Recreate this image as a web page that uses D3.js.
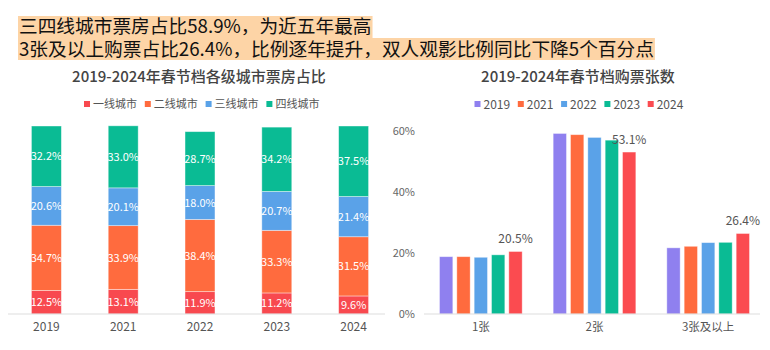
<!DOCTYPE html>
<html>
<head>
<meta charset="utf-8">
<script src="https://cdn.jsdelivr.net/npm/d3@7/dist/d3.min.js"></script>
<style>
  body { margin: 0; background: #fff; }
  svg { font-family: "Noto Sans CJK SC", "Noto Sans", sans-serif; }
</style>
</head>
<body>
<div id="container"></div>
<script>
// headline
const headlines = ["三四线城市票房占比58.9%，为近五年最高", "3张及以上购票占比26.4%，比例逐年提升，双人观影比例同比下降5个百分点"];

// left chart: box office share by city tier
const years = ["2019", "2021", "2022", "2023", "2024"];
const tiers = ["一线城市", "二线城市", "三线城市", "四线城市"];
const tier1 = [12.5, 13.1, 11.9, 11.2, 9.6];
const tier2 = [34.7, 33.9, 38.4, 33.3, 31.5];
const tier3 = [20.6, 20.1, 18.0, 20.7, 21.4];
const tier4 = [32.2, 33.0, 28.7, 34.2, 37.5];
const tierColors = ["#f8494f", "#ff6b3e", "#5aa2e8", "#0abb94"];

// right chart: tickets per purchase
const ticketGroups = ["1张", "2张", "3张及以上"];
const ticketYears = ["2019", "2021", "2022", "2023", "2024"];
const t2019 = [18.8, 59.2, 21.7];
const t2021 = [18.8, 58.8, 22.2];
const t2022 = [18.6, 57.9, 23.4];
const t2023 = [19.4, 57.0, 23.5];
const t2024 = [20.5, 53.1, 26.4];
const yearColors = ["#8f80ef", "#ff6b3e", "#5aa2e8", "#0abb94", "#fb4b50"];
const rightTicks = [0, 20, 40, 60];

const width = 770, height = 350;
const svg = d3.select("#container").append("svg")
  .attr("width", width).attr("height", height);

// ---- headline with highlight
const lineY = [33, 55.5];
const hl = svg.append("g");
headlines.forEach((t, i) => {
  const rect = hl.append("rect").attr("fill", "#fdd4a6");
  const txt = hl.append("text")
    .attr("x", 19).attr("y", lineY[i])
    .attr("font-size", 18.7).attr("fill", "#111")
    .text(t);
  const w = txt.node().getComputedTextLength();
  rect.attr("x", 18).attr("y", i === 0 ? 16 : 38)
    .attr("width", w + 2).attr("height", 22);
  txt.raise();
});

// ---- left chart
const stackRows = years.map((y, i) => ({ year: y, "一线城市": tier1[i], "二线城市": tier2[i], "三线城市": tier3[i], "四线城市": tier4[i] }));
const stacked = d3.stack().keys(tiers)(stackRows);

const xL = d3.scaleBand().domain(years).range([8, 392]).paddingInner(0.61).paddingOuter(0.305);
const yL = d3.scaleLinear().domain([0, 100]).range([314, 126]);

svg.append("text").attr("x", 199).attr("y", 82).attr("text-anchor", "middle")
  .attr("font-size", 15).attr("font-weight", 500).attr("fill", "#444")
  .text("2019-2024年春节档各级城市票房占比");

const legL = svg.append("g").selectAll("g").data(tiers).enter().append("g")
  .attr("transform", (d, i) => `translate(${84 + i * 60.8},104)`);
legL.append("rect").attr("x", 0).attr("y", -3).attr("width", 6).attr("height", 6)
  .attr("fill", (d, i) => tierColors[i]);
legL.append("text").attr("x", 9).attr("y", 4).attr("font-size", 11).attr("fill", "#555").text(d => d);

const layers = svg.append("g").selectAll("g").data(stacked).enter().append("g")
  .attr("fill", (d, i) => tierColors[i]);
layers.selectAll("rect").data(d => d).enter().append("rect")
  .attr("x", d => xL(d.data.year))
  .attr("y", d => yL(d[1]))
  .attr("width", xL.bandwidth())
  .attr("height", d => yL(d[0]) - yL(d[1]))
  .attr("stroke", "#fff").attr("stroke-opacity", 0.5).attr("stroke-width", 0.8);
layers.selectAll("text").data(d => d).enter().append("text")
  .attr("x", d => xL(d.data.year) + xL.bandwidth() / 2)
  .attr("y", d => (yL(d[0]) + yL(d[1])) / 2 + 4)
  .attr("text-anchor", "middle").attr("font-size", 11).attr("fill", "#fff")
  .text(d => (d[1] - d[0]).toFixed(1) + "%");

const axL = svg.append("g").attr("transform", "translate(0,314)")
  .call(d3.axisBottom(xL).tickSize(0).tickPadding(8));
axL.select(".domain").attr("d", "M8,0H385").attr("stroke", "#ddd");
axL.selectAll("text").attr("font-size", 12).attr("fill", "#555").attr("font-family", "\"Noto Sans CJK SC\", sans-serif");

// ---- right chart
const seriesR = [t2019, t2021, t2022, t2023, t2024];
const x0 = d3.scaleBand().domain(ticketGroups).range([424, 765]);
const x1 = d3.scaleBand().domain(ticketYears).range([0, 82.7]).paddingInner(0.23);
const yR = d3.scaleLinear().domain([0, 60]).range([314, 131]);
const groupOffset = (x0.bandwidth() - 82.7) / 2;

svg.append("text").attr("x", 578).attr("y", 82).attr("text-anchor", "middle")
  .attr("font-size", 15).attr("font-weight", 500).attr("fill", "#444")
  .text("2019-2024年春节档购票张数");

const legR = svg.append("g").selectAll("g").data(ticketYears).enter().append("g")
  .attr("transform", (d, i) => `translate(${474.5 + i * 43.3},104)`);
legR.append("rect").attr("x", 0).attr("y", -3).attr("width", 6).attr("height", 6)
  .attr("fill", (d, i) => yearColors[i]);
legR.append("text").attr("x", 9).attr("y", 4.5).attr("font-size", 12).attr("fill", "#555").text(d => d);

const axYR = svg.append("g").attr("transform", "translate(415,0)")
  .call(d3.axisLeft(yR).tickValues(rightTicks).tickSize(0).tickPadding(0).tickFormat(d => d + "%"));
axYR.select(".domain").remove();
axYR.selectAll("text").attr("font-size", 11).attr("fill", "#666").attr("font-family", "\"Noto Sans CJK SC\", sans-serif");

const groupsR = svg.append("g").selectAll("g").data(ticketYears).enter().append("g")
  .attr("fill", (d, i) => yearColors[i]);
groupsR.selectAll("rect").data((yr, si) => seriesR[si].map((v, gi) => ({ yr, v, g: ticketGroups[gi] })))
  .enter().append("rect")
  .attr("x", d => x0(d.g) + groupOffset + x1(d.yr))
  .attr("y", d => yR(d.v))
  .attr("width", x1.bandwidth())
  .attr("height", d => yR(0) - yR(d.v))
  .attr("stroke", "#fff").attr("stroke-opacity", 0.5).attr("stroke-width", 0.8);

// value labels on 2024 bars
svg.append("g").selectAll("text").data(t2024).enter().append("text")
  .attr("x", (d, i) => x0(ticketGroups[i]) + groupOffset + x1("2024") + x1.bandwidth() / 2)
  .attr("y", d => yR(d) - 8)
  .attr("text-anchor", "middle").attr("font-size", 12).attr("fill", "#555")
  .text(d => d.toFixed(1) + "%");

const axXR = svg.append("g").attr("transform", "translate(0,314)")
  .call(d3.axisBottom(x0).tickSize(0).tickPadding(9));
axXR.select(".domain").attr("d", "M424,0H760").attr("stroke", "#ddd");
axXR.selectAll("text").attr("font-size", 11.5).attr("fill", "#555").attr("font-family", "\"Noto Sans CJK SC\", sans-serif");
</script>
</body>
</html>
